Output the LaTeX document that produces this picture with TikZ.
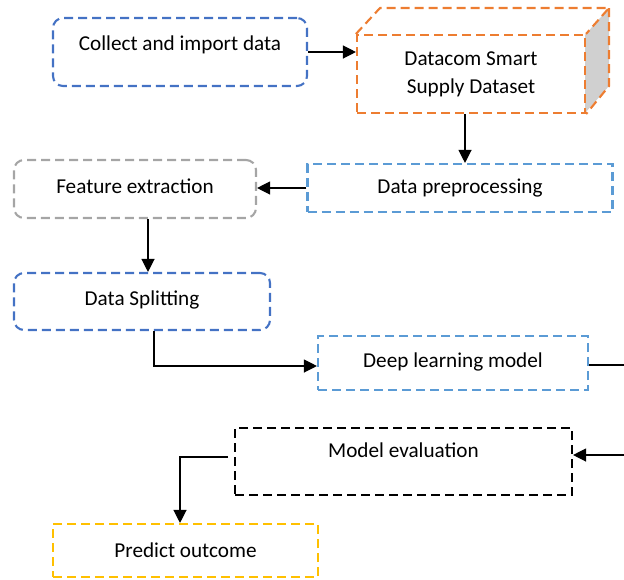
\documentclass[tikz,border=0pt]{standalone}
\usepackage{fontspec}
\setmainfont{Carlito}
\usetikzlibrary{arrows.meta}
\definecolor{cblue}{HTML}{4472C4}
\definecolor{lblue}{HTML}{5B9BD5}
\definecolor{corange}{HTML}{ED7D31}
\definecolor{cgray}{HTML}{A5A5A5}
\definecolor{cyellow}{HTML}{FFC000}
\definecolor{cubegray}{HTML}{D0D0D0}
\tikzset{
  dsh/.style={line width=2.1pt, dash pattern=on 9pt off 5pt},
  box/.style={draw, dsh, inner sep=0pt,
    font=\fontsize{21.2}{28}\selectfont, align=center},
  rbox/.style={box, rounded corners=10pt},
  con/.style={line width=1.2pt, -{Triangle[length=13pt,width=13pt]}},
  plain/.style={line width=1.2pt},
}
\begin{document}
\begin{tikzpicture}[x=1pt,y=-1pt]
\useasboundingbox (0,0) rectangle (624,579);
% nodes
\node[rbox, draw=cblue, minimum width=254pt, minimum height=68pt, text height=14pt, text depth=18pt] (collect) at (180,52) {Collect and import data};
\fill[cubegray] (585,35) -- (609,8) -- (609,86) -- (585,113) -- cycle;
\node[box, draw=corange, minimum width=228pt, minimum height=78pt] (ds) at (471,74) {Datacom Smart\\Supply Dataset};
\draw[corange, dsh] (ds.north west) -- (380,8) -- (609,8) -- (ds.north east);
\draw[corange, dsh] (609,8) -- (609,86) -- (ds.south east);
\node[box, draw=lblue, minimum width=305pt, minimum height=48pt] (prep) at (460,188) {Data preprocessing};
\node[rbox, draw=cgray, minimum width=242pt, minimum height=58pt, text height=14pt, text depth=5pt] (feat) at (135,189) {Feature extraction};
\node[rbox, draw=cblue, minimum width=256pt, minimum height=57pt, text height=14pt, text depth=7pt] (split) at (142,301.5) {Data Splitting};
\node[box, draw=lblue, minimum width=270pt, minimum height=54pt, text height=14pt, text depth=6pt] (dl) at (453,363) {Deep learning model};
\node[box, draw=black, minimum width=337pt, minimum height=67pt, text height=14pt, text depth=22pt] (eval) at (403.5,461.5) {Model evaluation};
\node[box, draw=cyellow, minimum width=265pt, minimum height=53pt] (pred) at (185.5,550.5) {Predict outcome};
% coordinates
\coordinate (dlout) at (624,365);
\coordinate (evin) at (624,455);
\coordinate (evout) at (228,457);
% connectors
\draw[con] (collect.east |- 0,52) -- (ds.west |- 0,52);
\draw[con] (ds.south -| 465,0) -- (prep.north -| 465,0);
\draw[con] (prep.west) -- (feat.east |- prep.west);
\draw[con] (feat.south -| 148,0) -- (split.north -| 148,0);
\draw[con] (split.south -| 154,0) |- (dl.west |- 0,366);
\draw[plain] (dl.east |- dlout) -- (dlout);
\draw[con] (evin) -- (eval.east |- evin);
\draw[con] (evout) -| (pred.north -| 180,0);
\end{tikzpicture}
\end{document}
